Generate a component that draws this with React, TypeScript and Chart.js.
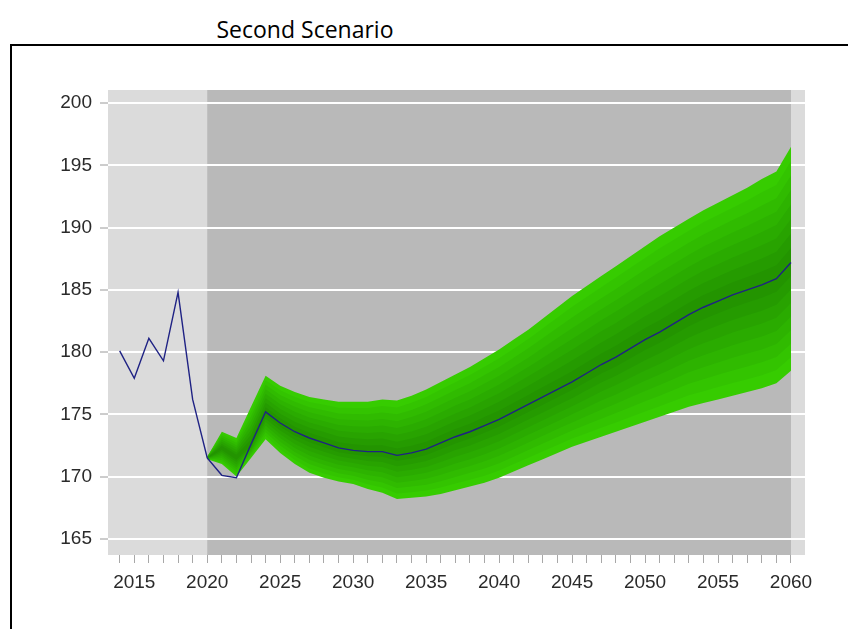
import React, { useEffect, useRef } from 'react';
import { Chart, registerables } from 'chart.js';

Chart.register(...registerables);

// Observed series (to 2022) continuing as the central projection
const lineYears = [
  2014, 2015, 2016, 2017, 2018, 2019, 2020, 2021, 2022, 2023, 2024, 2025, 2026, 2027, 2028, 2029,
  2030, 2031, 2032, 2033, 2034, 2035, 2036, 2037, 2038, 2039, 2040, 2041, 2042, 2043, 2044, 2045,
  2046, 2047, 2048, 2049, 2050, 2051, 2052, 2053, 2054, 2055, 2056, 2057, 2058, 2059, 2060,
];
const lineValues = [
  180.1, 177.9, 181.1, 179.3, 184.8, 176.2, 171.5, 170.1, 169.9, 172.6, 175.2, 174.3, 173.6, 173.1, 172.7, 172.3,
  172.1, 172.0, 172.0, 171.7, 171.9, 172.2, 172.7, 173.2, 173.6, 174.1, 174.6, 175.2, 175.8, 176.4, 177.0, 177.6,
  178.3, 179.0, 179.6, 180.3, 181.0, 181.6, 182.3, 183.0, 183.6, 184.1, 184.6, 185.0, 185.4, 185.9, 187.2,
];

// Outer limits of the forecast fan
const fanYears = [
  2020, 2021, 2022, 2023, 2024, 2025, 2026, 2027, 2028, 2029, 2030, 2031, 2032, 2033, 2034, 2035,
  2036, 2037, 2038, 2039, 2040, 2041, 2042, 2043, 2044, 2045, 2046, 2047, 2048, 2049, 2050, 2051,
  2052, 2053, 2054, 2055, 2056, 2057, 2058, 2059, 2060,
];
const fanUpper = [
  171.6, 173.6, 173.1, 175.6, 178.1, 177.3, 176.8, 176.4, 176.2, 176.0, 176.0, 176.0, 176.2, 176.1, 176.5, 177.0,
  177.6, 178.2, 178.8, 179.5, 180.2, 181.0, 181.8, 182.7, 183.6, 184.5, 185.3, 186.1, 186.9, 187.7, 188.5, 189.3,
  190.0, 190.7, 191.4, 192.0, 192.6, 193.2, 193.9, 194.5, 196.5,
];
const fanLower = [
  171.4, 171.0, 170.0, 171.5, 173.0, 171.9, 171.0, 170.3, 169.9, 169.6, 169.4, 169.0, 168.7, 168.2, 168.3, 168.4,
  168.6, 168.9, 169.2, 169.5, 169.9, 170.4, 170.9, 171.4, 171.9, 172.4, 172.8, 173.2, 173.6, 174.0, 174.4, 174.8,
  175.2, 175.6, 175.9, 176.2, 176.5, 176.8, 177.1, 177.5, 178.5,
];

// Fan bands: share of the outer half-width, outermost first
const bandShares = [1, 0.875, 0.75, 0.625, 0.5, 0.375, 0.25, 0.125];
const bandColours = ['#36cc00', '#33c400', '#30bb00', '#2db300', '#2aab00', '#28a300', '#259b00', '#239400'];

// Axis ticks
const xTickYears = lineYears;
const yTickValues = [165, 170, 175, 180, 185, 190, 195, 200];

// Shaded periods
const forecastStart = 2020;
const forecastEnd = 2060;

const X_MIN = 2013.2;
const X_MAX = 2060.96;
const Y_MIN = 163.7;
const Y_MAX = 201.05;

function centreAt(i: number): number {
  const year = fanYears[i];
  const m = lineValues[lineYears.indexOf(year)];
  const up = fanUpper[i];
  const lo = fanLower[i];
  return m >= lo && m <= up ? m : (up + lo) / 2;
}

function buildDatasets() {
  const sets: any[] = [
    {
      label: 'level',
      data: lineYears.map((x, i) => ({ x, y: lineValues[i] })),
      borderColor: '#1f2284',
      borderWidth: 1.4,
      pointRadius: 0,
      tension: 0,
      fill: false,
    },
  ];
  // innermost band first so the outer bands are painted underneath
  for (let b = bandShares.length - 1; b >= 0; b--) {
    const s = bandShares[b];
    const up = fanYears.map((x, i) => {
      const c = centreAt(i);
      return { x, y: c + s * (fanUpper[i] - c) };
    });
    const lo = fanYears.map((x, i) => {
      const c = centreAt(i);
      return { x, y: c - s * (c - fanLower[i]) };
    });
    sets.push({
      label: 'band-up-' + b,
      data: up,
      borderWidth: 0,
      borderColor: 'rgba(0,0,0,0)',
      backgroundColor: bandColours[b],
      pointRadius: 0,
      tension: 0,
      fill: '+1',
    });
    sets.push({
      label: 'band-lo-' + b,
      data: lo,
      borderWidth: 0,
      borderColor: 'rgba(0,0,0,0)',
      pointRadius: 0,
      tension: 0,
      fill: false,
    });
  }
  return sets;
}

const periodShading = {
  id: 'periodShading',
  beforeDraw(chart: any) {
    const { ctx, chartArea, scales } = chart;
    const x0 = scales.x.getPixelForValue(forecastStart);
    const x1 = scales.x.getPixelForValue(forecastEnd);
    ctx.save();
    ctx.fillStyle = '#dbdbdb';
    ctx.fillRect(chartArea.left, chartArea.top, chartArea.right - chartArea.left, chartArea.bottom - chartArea.top);
    ctx.fillStyle = '#b9b9b9';
    ctx.fillRect(x0, chartArea.top, x1 - x0, chartArea.bottom - chartArea.top);
    ctx.restore();
  },
};

const tickFont = { family: '"Liberation Sans", Arial, sans-serif', size: 19 };

export default function App() {
  const ref = useRef<HTMLCanvasElement>(null);

  useEffect(() => {
    const chart = new Chart(ref.current as HTMLCanvasElement, {
      type: 'line',
      data: { datasets: buildDatasets() },
      plugins: [periodShading],
      options: {
        animation: false,
        responsive: false,
        devicePixelRatio: 1,
        layout: { padding: { left: 0, top: 90, right: 43, bottom: 0 } },
        plugins: {
          legend: { display: false },
          tooltip: { enabled: false },
          title: { display: false },
        },
        scales: {
          x: {
            type: 'linear',
            min: X_MIN,
            max: X_MAX,
            afterBuildTicks: (axis: any) => {
              axis.ticks = xTickYears.map((v) => ({ value: v }));
            },
            afterFit: (axis: any) => {
              axis.height = 74;
            },
            border: { display: false },
            grid: {
              drawOnChartArea: false,
              drawTicks: true,
              tickLength: 8,
              tickColor: '#a8a8a8',
              tickWidth: 1,
            },
            ticks: {
              autoSkip: false,
              maxRotation: 0,
              minRotation: 0,
              padding: 8,
              color: '#2a2a2a',
              font: tickFont,
              callback: (v: any) => (Number(v) % 5 === 0 ? String(v) : ''),
            },
          },
          y: {
            type: 'linear',
            min: Y_MIN,
            max: Y_MAX,
            afterBuildTicks: (axis: any) => {
              axis.ticks = yTickValues.map((v) => ({ value: v }));
            },
            afterFit: (axis: any) => {
              axis.width = 108;
            },
            border: { display: false },
            grid: {
              drawOnChartArea: true,
              drawTicks: true,
              color: '#ffffff',
              lineWidth: 2,
              tickLength: 8,
              tickColor: '#9a9a9a',
              tickWidth: 1,
            },
            ticks: {
              padding: 8,
              color: '#2a2a2a',
              font: tickFont,
              callback: (v: any) => String(v),
            },
          },
        },
      },
    } as any);
    return () => chart.destroy();
  }, []);

  return (
    <div
      style={{
        position: 'absolute',
        left: 0,
        top: 0,
        width: 848,
        height: 629,
        overflow: 'hidden',
        background: '#ffffff',
      }}
    >
      <div
        style={{
          position: 'absolute',
          left: 10,
          top: 44,
          width: 900,
          height: 700,
          borderLeft: '2px solid #000',
          borderTop: '2px solid #000',
        }}
      />
      <div
        style={{
          position: 'absolute',
          left: 105,
          top: 14,
          width: 400,
          textAlign: 'center',
          fontFamily: '"Open Sans", sans-serif',
          fontSize: 23,
          lineHeight: '30px',
          color: '#000',
        }}
      >
        Second Scenario
      </div>
      <canvas ref={ref} width={848} height={629} style={{ position: 'absolute', left: 0, top: 0 }} />
    </div>
  );
}
